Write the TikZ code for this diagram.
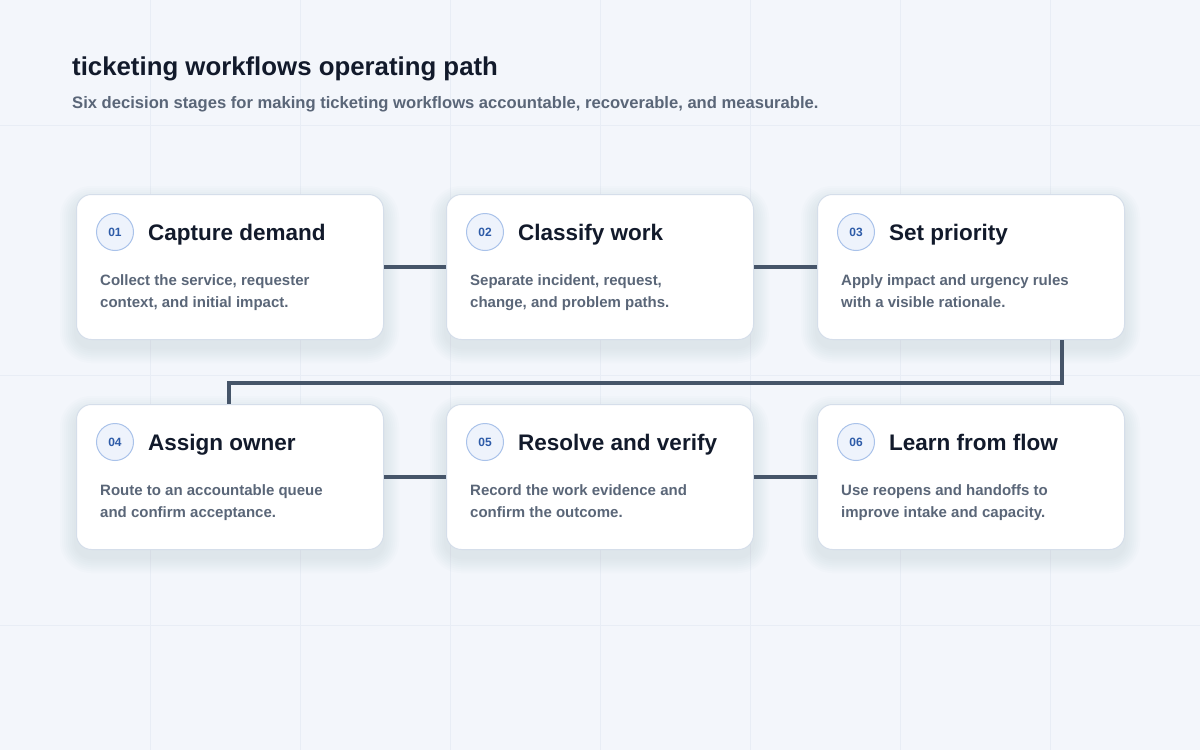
\documentclass[tikz,border=0pt]{standalone}
\usepackage{fontspec}
\setmainfont{Liberation Sans}
\definecolor{bg}{HTML}{F3F6FB}
\definecolor{gridc}{HTML}{E8EDF5}
\definecolor{cardb}{HTML}{D5DEEA}
\definecolor{conn}{HTML}{465569}
\definecolor{titlec}{HTML}{121A2B}
\definecolor{subc}{HTML}{5A6678}
\definecolor{badgef}{HTML}{EEF3FC}
\definecolor{badgeb}{HTML}{A9C2EA}
\definecolor{badget}{HTML}{2D5BA8}
\definecolor{shad}{HTML}{8090A8}
\begin{document}
\begin{tikzpicture}[x=1pt,y=-1pt,
  card/.style={draw=cardb,line width=1pt,fill=white,rounded corners=15pt,minimum width=307pt,minimum height=145pt,anchor=north west,inner sep=0pt},
  badge/.style={circle,draw=badgeb,line width=1pt,fill=badgef,minimum size=37pt,inner sep=0pt,font=\bfseries\fontsize{12}{12}\selectfont,text=badget},
  ctitle/.style={anchor=base west,font=\bfseries\fontsize{22.5}{24}\selectfont,text=titlec,inner sep=0pt},
  body/.style={anchor=north west,align=left,font=\bfseries\fontsize{15}{22}\selectfont,text=subc,inner sep=0pt},
  link/.style={draw=conn,line width=3.5pt}]
\useasboundingbox (0,0) rectangle (1200,750);
\fill[bg] (0,0) rectangle (1200,750);
\foreach \x in {150,300,...,1050} \draw[gridc,line width=0.8pt] (\x,0) -- (\x,750);
\foreach \y in {125,375,625} \draw[gridc,line width=0.8pt] (0,\y) -- (1200,\y);
\node[anchor=west,inner sep=0pt,font=\bfseries\fontsize{25.8}{28}\selectfont,text=titlec] (title) at (72,69) {ticketing workflows operating path};
\node[anchor=west,inner sep=0pt,font=\bfseries\fontsize{16.6}{18}\selectfont,text=subc] (sub) at (72,104) {Six decision stages for making ticketing workflows accountable, recoverable, and measurable.};
\coordinate (s3) at (1062,339); \coordinate (e4) at (229,404);
\foreach \n/\x/\y/\t/\l/\m in {
 1/76/194/{Capture demand}/{Collect the service, requester}/{context, and initial impact.},
 2/446/194/{Classify work}/{Separate incident, request,}/{change, and problem paths.},
 3/817/194/{Set priority}/{Apply impact and urgency rules}/{with a visible rationale.},
 4/76/404/{Assign owner}/{Route to an accountable queue}/{and confirm acceptance.},
 5/446/404/{Resolve and verify}/{Record the work evidence and}/{confirm the outcome.},
 6/817/404/{Learn from flow}/{Use reopens and handoffs to}/{improve intake and capacity.}}{
 \foreach \r in {2,4,...,16}
   \fill[shad,opacity=0.018,rounded corners=15pt+\r pt] (\x-\r,\y+8-\r) rectangle (\x+307+\r,\y+153+\r);
 \node[card] (c\n) at (\x,\y) {};
 \node[badge] (n\n) at (\x+39,\y+38) {0\n};
 \node[ctitle] (t\n) at (\x+72,\y+46) {\t};
 \node[body] (d\n) at (\x+24,\y+80) {\l\\\m};
}
\draw[link] (c1.east) -- (c2.west);
\draw[link] (c2.east) -- (c3.west);
\draw[link] (c4.east) -- (c5.west);
\draw[link] (c5.east) -- (c6.west);
\draw[link] (c3.south-|s3) -- (1062,383) -- (229,383) -- (c4.north-|e4);
\end{tikzpicture}
\end{document}
